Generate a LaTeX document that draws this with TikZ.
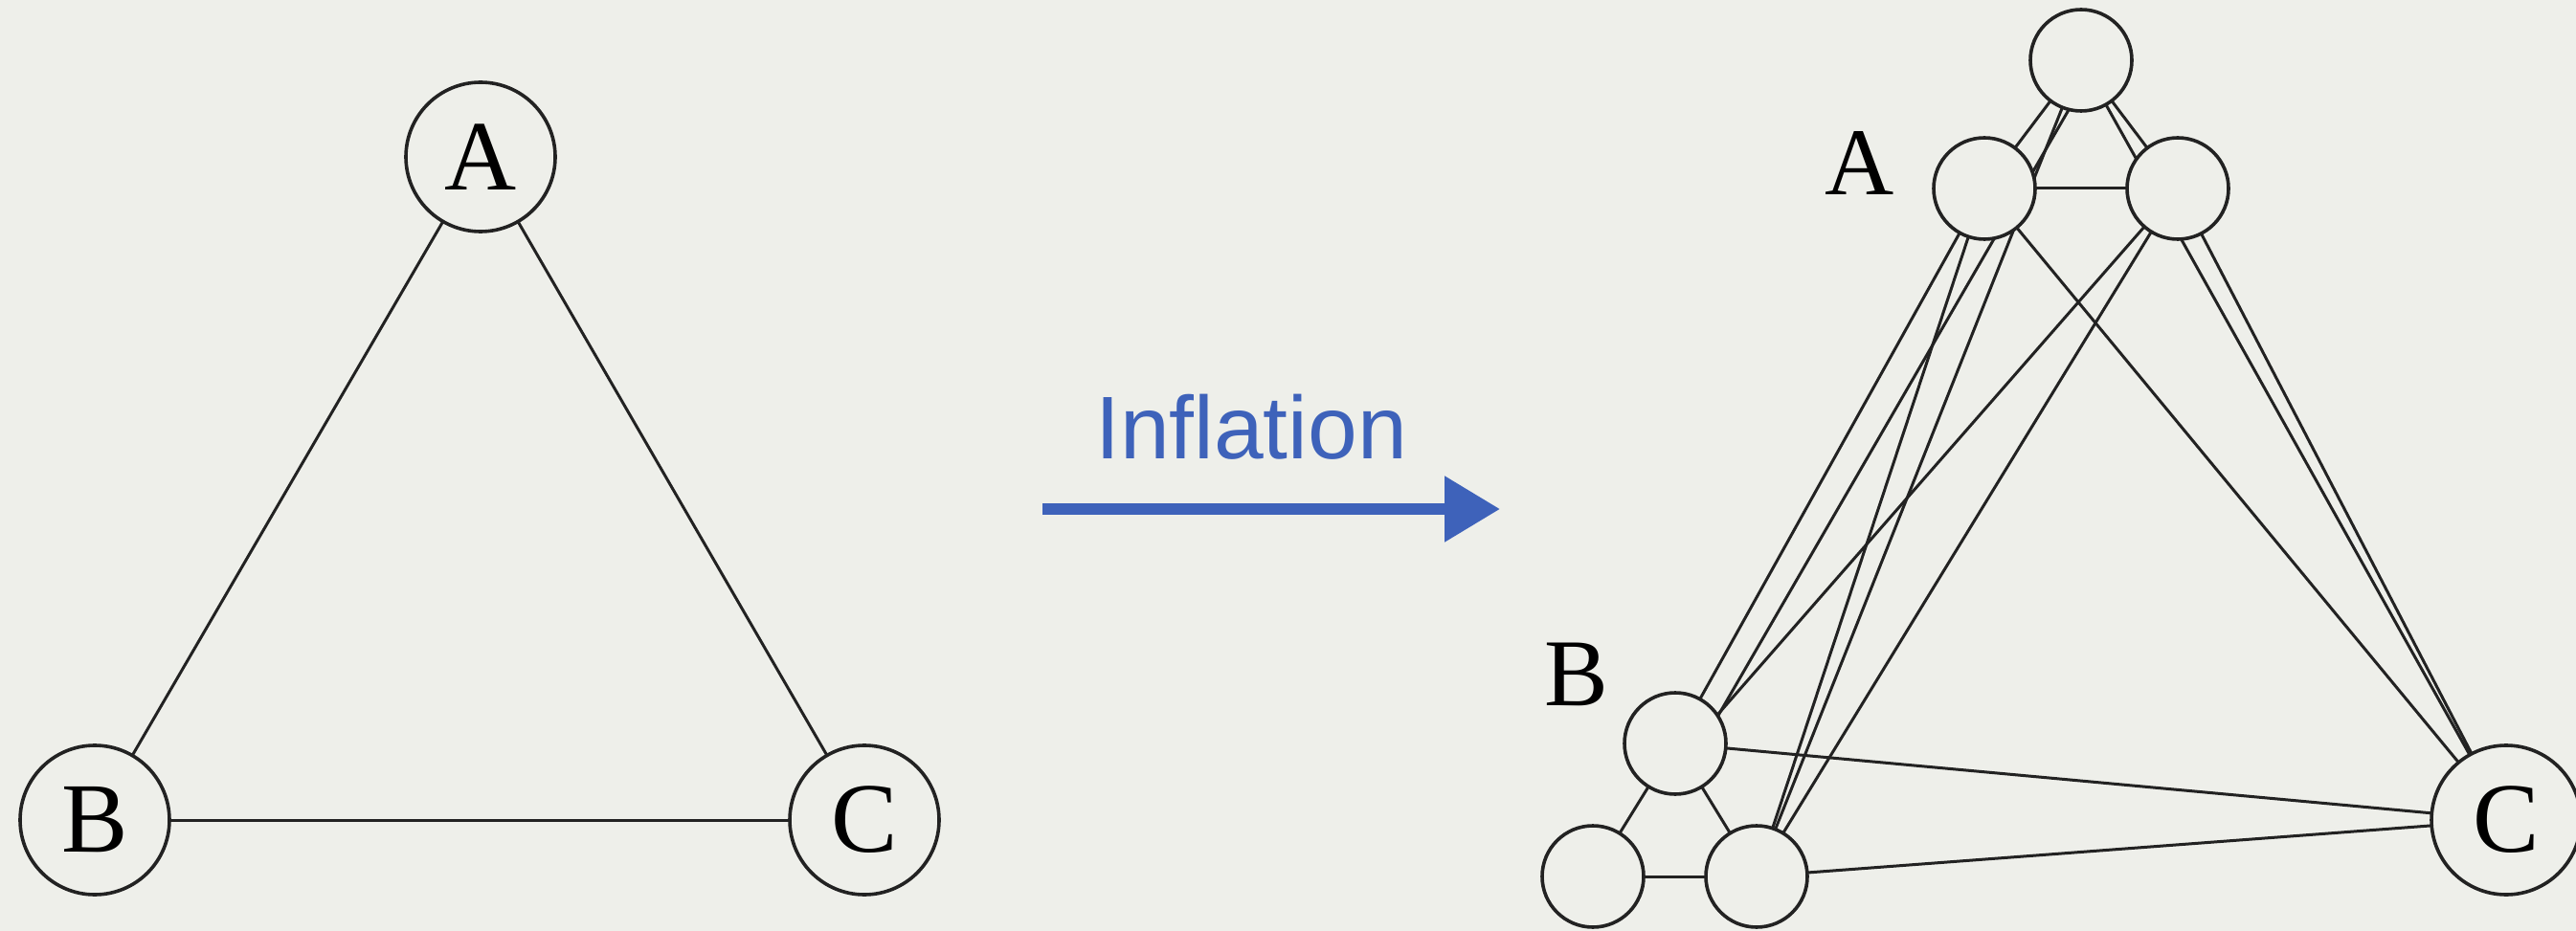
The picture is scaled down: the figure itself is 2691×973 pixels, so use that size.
\documentclass[tikz,border=0pt]{standalone}
\usepackage{fontspec}
\setmainfont{Liberation Serif}
\newfontfamily\inflfont{Liberation Sans}
\usetikzlibrary{arrows.meta,backgrounds,calc}
\definecolor{bgc}{RGB}{238,239,234}
\definecolor{inkc}{RGB}{34,34,34}
\definecolor{bluec}{RGB}{62,98,186}
\begin{document}
\begin{tikzpicture}[x=1pt,y=-1pt,
  bignode/.style={circle,draw=inkc,line width=3.6pt,fill=bgc,minimum size=156pt,inner sep=0pt,font=\fontsize{104}{104}\selectfont},
  smallnode/.style={circle,draw=inkc,line width=3.6pt,fill=bgc,minimum size=106pt,inner sep=0pt},
  link/.style={draw=inkc,line width=3pt},
  sidelabel/.style={inner sep=0pt,font=\fontsize{100}{100}\selectfont},
  infltext/.style={inner sep=0pt,text=bluec,font=\inflfont\fontsize{93}{93}\selectfont}]
\useasboundingbox (0,0) rectangle (2691,973);
% left graph
\node[bignode] (lA) at (502,164) {A};
\node[bignode] (lB) at (99,857) {B};
\node[bignode] (lC) at (903,857) {C};
% arrow
\node[infltext] (infl) at (1307,446) {Inflation};
\coordinate (arrS) at (1089,532);
\coordinate (arrE) at (1567,532);
\draw[bluec,line width=12pt,-{Triangle[length=58pt,width=66pt]}] (arrS) -- (arrE);
% right graph
\node[smallnode] (T) at (2174,63) {};
\node[smallnode] (A1) at (2073,197) {};
\node[smallnode] (A2) at (2275,197) {};
\node[smallnode] (B1) at (1750,777) {};
\node[smallnode] (B2) at (1664,916) {};
\node[smallnode] (B3) at (1835,916) {};
\node[bignode] (rC) at (2618,857) {C};
\node[sidelabel] (labA) at (1943,170) {A};
\node[sidelabel] (labB) at (1647,705) {B};
\begin{scope}[on background layer]
\fill[bgc] (0,0) rectangle (2691,973);
\draw[link] (lA.center) -- (lB.center);
\draw[link] (lA.center) -- (lC.center);
\draw[link] (lB.center) -- (lC.center);
% triangles of copies
\draw[link] (T.center) -- (A1.center);
\draw[link] (T.center) -- (A2.center);
\draw[link] (A1.center) -- (A2.center);
\draw[link] (B1.center) -- (B2.center);
\draw[link] (B1.center) -- (B3.center);
\draw[link] (B2.center) -- (B3.center);
% A copies to B copies
\draw[link] (A1.center) -- (B1.center);
\draw[link] (A1.center) -- (B3.center);
\draw[link] ($(T.center)+(17,0)$) -- ($(B1.center)+(28,0)$);
\draw[link] (T.center) -- (B3.center);
\draw[link] (A2.center) -- ($(B1.center)+(18,0)$);
\draw[link] (A2.center) -- (B3.center);
% to C
\draw[link] (T.center) -- (rC.center);
\draw[link] (A1.center) -- (rC.center);
\draw[link] (A2.center) -- (rC.center);
\draw[link] (B1.center) -- (rC.center);
\draw[link] (B3.center) -- (rC.center);
\end{scope}
\end{tikzpicture}
\end{document}
